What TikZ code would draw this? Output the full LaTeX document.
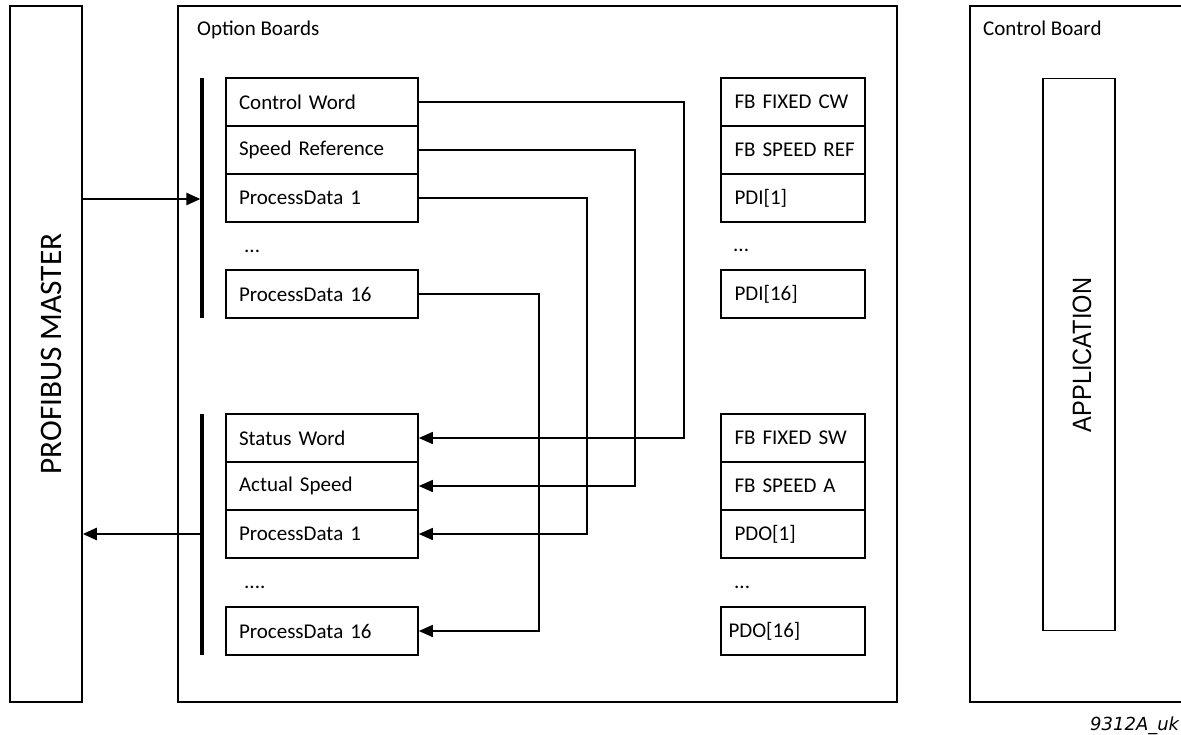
\documentclass[tikz,border=0pt]{standalone}
\usepackage{fontspec}
\usepackage{graphicx}
\setmainfont{Carlito}
\newfontfamily\arialfont{Liberation Sans}
\newfontfamily\tagfont{DejaVu Sans}
\usetikzlibrary{arrows.meta}
\begin{document}
\begin{tikzpicture}[x=1pt,y=-1pt,
  frame/.style={draw,line width=1.6pt},
  cell/.style={draw,line width=1.6pt,minimum height=48pt,inner xsep=13pt,inner ysep=0pt,
    text width=166pt,align=left,font=\fontsize{21}{25}\selectfont},
  rcell/.style={draw,line width=1.6pt,minimum height=48pt,inner xsep=7.5pt,inner ysep=0pt,
    text width=129pt,align=left,font=\fontsize{21}{25}\selectfont},
  lbl/.style={anchor=base west,inner sep=0pt,font=\fontsize{21}{25}\selectfont},
  bus/.style={line width=3.2pt},
  arr/.style={line width=1.6pt,-{Triangle[length=14pt,width=12pt]}},
  barr/.style={line width=2.4pt,-{Triangle[length=14pt,width=12pt]}}]
\useasboundingbox (0,0) rectangle (1181,735);
% big frames
\node[frame,minimum width=72pt,minimum height=696pt,inner sep=0pt] (pm) at (46,354) {};
\node[rotate=90,inner sep=0pt,font=\fontsize{31.3}{34}\selectfont] (pmt) at (51,354) {PROFIBUS MASTER};
\node[frame,minimum width=719pt,minimum height=696pt,inner sep=0pt] (ob) at (537.5,354) {};
\node[lbl] (obt) at (197,36) {Option Boards};
\draw[frame] (970,6) rectangle (1195,702);
\node[lbl] (cbt) at (983,36) {Control Board};
\node[frame,minimum width=72pt,minimum height=552pt,inner sep=0pt] (app) at (1079,354.5) {};
\node[rotate=90,inner sep=0pt,font=\arialfont\fontsize{26.5}{30}\selectfont] (appt) at (1082,355) {\scalebox{0.89}[1]{APPLICATION}};
% left cells upper
\node[cell] (cw) at (322,102) {Control Word};
\node[cell] (sr) at (322,150) {Speed Reference};
\node[cell] (pa1) at (322,198) {ProcessData 1};
\node[lbl] (da) at (244,253) {...};
\node[cell] (pa16) at (322,294) {ProcessData 16};
% left cells lower
\node[cell] (sw) at (322,438) {Status Word};
\node[cell] (as) at (322,486) {Actual Speed};
\node[cell] (pb1) at (322,534) {ProcessData 1};
\node[lbl] (db) at (244,588) {....};
\node[cell] (pb16) at (322,631) {ProcessData 16};
% right cells upper
\node[rcell] (fcw) at (793,102) {\hspace*{6pt}FB FIXED CW};
\node[rcell] (fsr) at (793,150) {\hspace*{6pt}FB SPEED REF};
\node[rcell] (pdi1) at (793,198) {\hspace*{6pt}PDI[1]};
\node[lbl] (dc) at (733,252) {...};
\node[rcell] (pdi16) at (793,294) {\hspace*{6pt}PDI[16]};
% right cells lower
\node[rcell] (fsw) at (793,438) {\hspace*{6pt}FB FIXED SW};
\node[rcell] (fsa) at (793,486) {\hspace*{6pt}FB SPEED A};
\node[rcell] (pdo1) at (793,534) {\hspace*{6pt}PDO[1]};
\node[lbl] (dd) at (734,588) {...};
\node[rcell] (pdo16) at (793,631) {PDO[16]};
% bus bars
\coordinate (ua) at (202,78);
\coordinate (ub) at (202,318);
\coordinate (la) at (202,414);
\coordinate (lb) at (202,655);
\draw[bus] (ua) -- (ub);
\draw[bus] (la) -- (lb);
\coordinate (inA) at (202,199);
\coordinate (outB) at (202,534);
\draw[barr] (pm.east |- inA) -- ([xshift=-1.6pt]inA);
\draw[barr] ([xshift=-1.6pt]outB) -- (pm.east |- outB);
% connectors
\draw[arr] (cw.east) -- ++(265,0) |- (sw.east);
\draw[arr] (sr.east) -- ++(216,0) |- (as.east);
\draw[arr] (pa1.east) -- ++(168,0) |- (pb1.east);
\draw[arr] (pa16.east) -- ++(120,0) |- (pb16.east);
% tag
\node[anchor=base west,inner sep=0pt,font=\tagfont\itshape\fontsize{18}{20}\selectfont] (tag) at (1090,730) {9312A\_uk};
\end{tikzpicture}
\end{document}
